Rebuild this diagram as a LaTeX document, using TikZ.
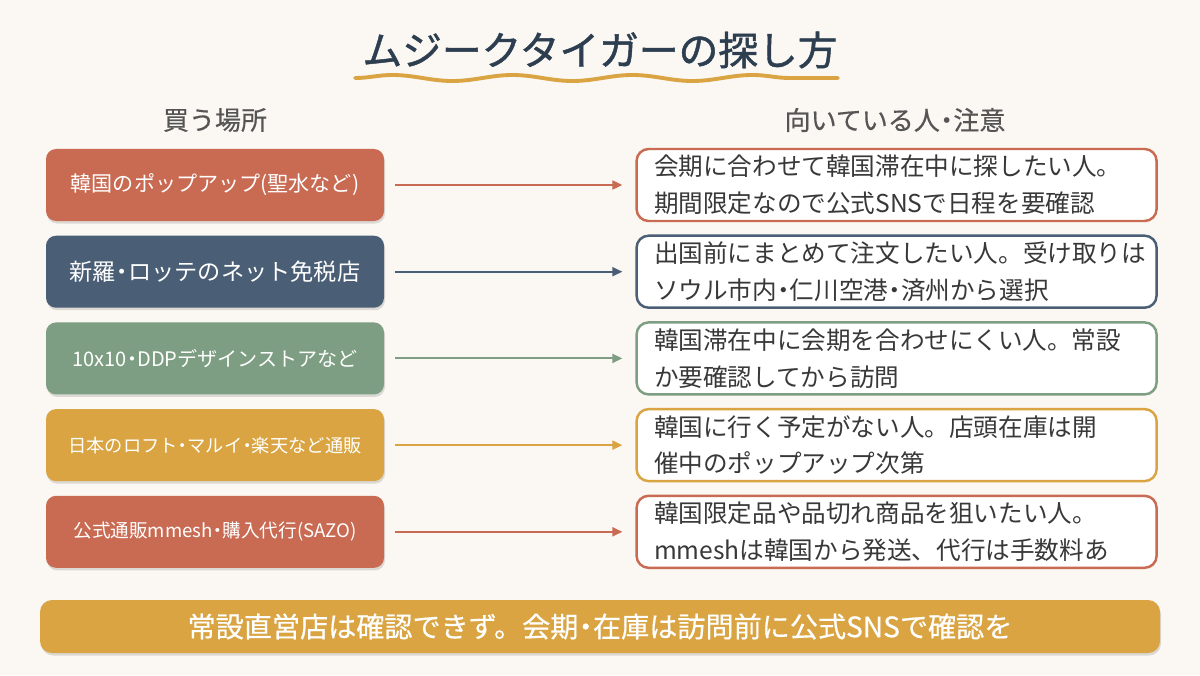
\documentclass[tikz,border=0pt]{standalone}
\usepackage{fontspec}
\setmainfont{Noto Sans CJK JP}
\newfontfamily\medfont{Noto Sans CJK JP}[FakeBold=1.2]
\newfontfamily\semifont{Noto Sans CJK JP}[FakeBold=0.5]
\usepackage{tikz}
\usetikzlibrary{positioning, arrows.meta, shadows, decorations.pathmorphing}
\definecolor{mtbg}{HTML}{FBF7F2}
\definecolor{mtnavy}{HTML}{2C3E50}
\definecolor{mtred}{HTML}{C96A52}
\definecolor{mtblue}{HTML}{4A5E75}
\definecolor{mtgreen}{HTML}{7D9E82}
\definecolor{mtgold}{HTML}{D9A441}
\definecolor{mtgray}{HTML}{555555}
\definecolor{mttext}{HTML}{383838}
\newcommand{\dotsep}{\kern-0.24em・\kern-0.24em}

\begin{document}
\begin{tikzpicture}[
    node distance=0.28cm,
    place/.style={rectangle, fill=#1, rounded corners=0.2cm, minimum width=6.76cm, minimum height=1.44cm, text=white, align=center, drop shadow={shadow xshift=0.02cm, shadow yshift=-0.05cm, opacity=0.12, fill=black}},
    note/.style={rectangle, draw=#1, fill=white, line width=1.4pt, rounded corners=0.24cm, minimum width=10.4cm, minimum height=1.44cm, text width=9.7cm, inner ysep=2pt, align=left, text=mttext, font=\fontsize{14}{21}\selectfont},
    arrow/.style={-{Triangle[length=0.2cm, width=0.18cm]}, line width=1.1pt, draw=#1, shorten <=0.22cm, shorten >=0.26cm},
    header/.style={text=mtgray, font=\fontsize{14.8}{17}\selectfont\semifont}
]
\fill[mtbg] (0,0) rectangle (24,13.5);
\useasboundingbox (0,0) rectangle (24,13.5);

% title
\node[text=mtnavy, font=\fontsize{22.6}{26}\selectfont\medfont] (title) at (12,12.5) {ムジークタイガーの探し方};
\draw[mtgold, line width=2.2pt, line cap=round, decorate, decoration={snake, segment length=2.4cm, amplitude=0.06cm}] (7.1,11.94) -- (16.76,11.94);

\node[header] (hplace) at (4.3,11.1) {買う場所};
\node[header] (hnote) at (17.9,11.1) {向いている人\dotsep 注意};

% where to buy
\node[place=mtred, font=\fontsize{12}{14}\selectfont] (l1) at (4.3,9.8) {韓国のポップアップ(聖水など)};
\node[place=mtblue, font=\fontsize{13.2}{15}\selectfont, below=of l1] (l2) {新羅\dotsep ロッテのネット免税店};
\node[place=mtgreen, font=\fontsize{11.4}{13}\selectfont, below=of l2] (l3) {10x10\dotsep DDPデザインストアなど};
\node[place=mtgold, font=\fontsize{10.4}{12}\selectfont, below=of l3] (l4) {日本のロフト\dotsep マルイ\dotsep 楽天など通販};
\node[place=mtred, font=\fontsize{10.6}{12}\selectfont, below=of l4] (l5) {公式通販mmesh\dotsep 購入代行(SAZO)};

% who it suits
\node[note=mtred, right=5.02cm of l1] (r1) {会期に合わせて韓国滞在中に探したい人。\\期間限定なので公式SNSで日程を要確認};
\node[note=mtblue, right=5.02cm of l2] (r2) {出国前にまとめて注文したい人。受け取りは\\ソウル市内\dotsep 仁川空港\dotsep 済州から選択};
\node[note=mtgreen, right=5.02cm of l3] (r3) {韓国滞在中に会期を合わせにくい人。常設\\か要確認してから訪問};
\node[note=mtgold, right=5.02cm of l4] (r4) {韓国に行く予定がない人。店頭在庫は開\\催中のポップアップ次第};
\node[note=mtred, right=5.02cm of l5] (r5) {韓国限定品や品切れ商品を狙いたい人。\\mmeshは韓国から発送、代行は手数料あ};

\draw[arrow=mtred] (l1) -- (r1);
\draw[arrow=mtblue] (l2) -- (r2);
\draw[arrow=mtgreen] (l3) -- (r3);
\draw[arrow=mtgold] (l4) -- (r4);
\draw[arrow=mtred] (l5) -- (r5);

% bottom banner
\node[rectangle, fill=mtgold, rounded corners=0.24cm, minimum width=22.4cm, minimum height=1.06cm, text=white, font=\fontsize{16}{18}\selectfont\semifont, drop shadow={shadow xshift=0.02cm, shadow yshift=-0.05cm, opacity=0.12, fill=black}] (banner) at (12,0.97) {常設直営店は確認できず。会期\dotsep 在庫は訪問前に公式SNSで確認を};

\end{tikzpicture}
\end{document}
